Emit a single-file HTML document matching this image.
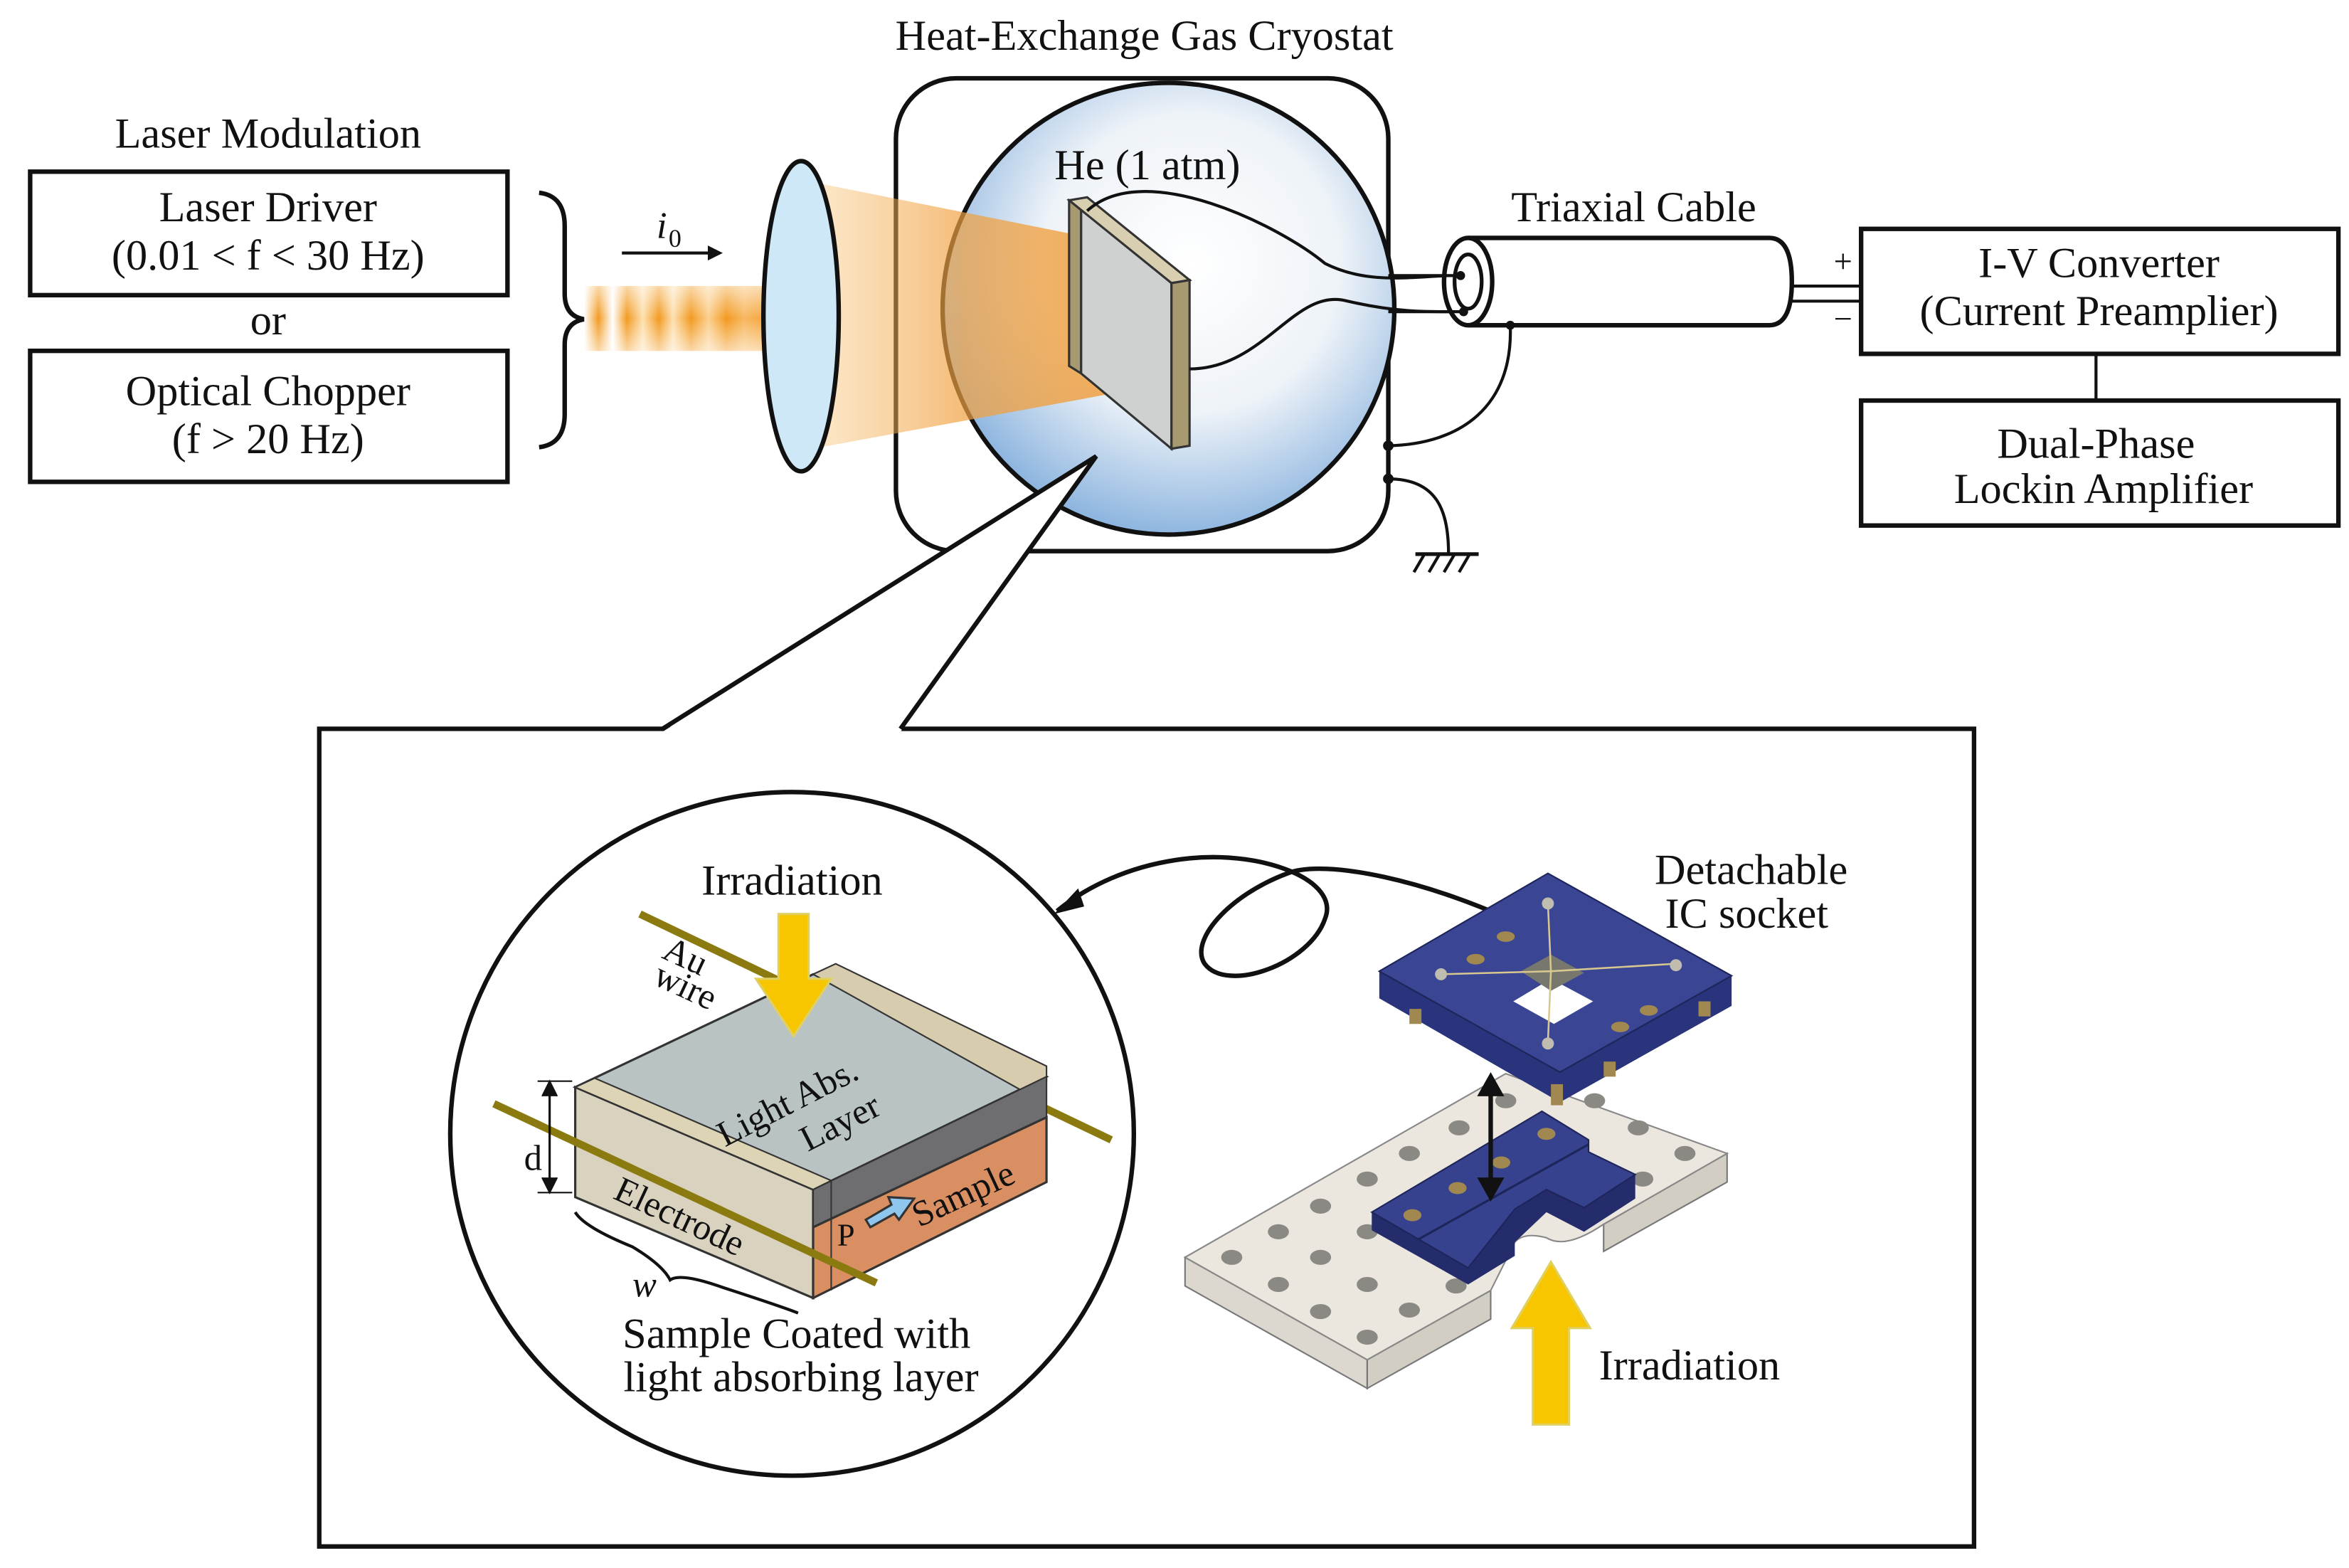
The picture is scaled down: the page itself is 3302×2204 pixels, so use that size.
<!DOCTYPE html>
<html><head><meta charset="utf-8"><style>
html,body{margin:0;padding:0;background:#fff;}
svg{display:block;}
text{font-family:"Liberation Serif",serif;fill:#111;}
</style></head><body>
<svg width="3302" height="2204" viewBox="0 0 1560 1041.3" xmlns="http://www.w3.org/2000/svg">
<defs>
<radialGradient id="he" cx="0.55" cy="0.4" r="0.6">
<stop offset="0" stop-color="#ffffff"/><stop offset="0.55" stop-color="#eef3f8"/><stop offset="1" stop-color="#8fb6e0"/>
</radialGradient>
<linearGradient id="cone" x1="0" x2="1" y1="0" y2="0">
<stop offset="0" stop-color="#f6b860" stop-opacity="0.35"/><stop offset="0.5" stop-color="#f0a040" stop-opacity="0.7"/><stop offset="1" stop-color="#f0a040" stop-opacity="0.85"/>
</linearGradient>
<linearGradient id="beam" x1="0" x2="1">
<stop offset="0" stop-color="#fff"/><stop offset="0.08" stop-color="#f29a20"/><stop offset="0.16" stop-color="#fff"/>
<stop offset="0.24" stop-color="#f29a20"/><stop offset="0.33" stop-color="#fde0b0"/><stop offset="0.42" stop-color="#f29a20"/>
<stop offset="0.5" stop-color="#fde0b0"/><stop offset="0.6" stop-color="#f29a20"/><stop offset="0.7" stop-color="#fbd090"/>
<stop offset="0.8" stop-color="#f29a20"/><stop offset="0.9" stop-color="#f7b860"/><stop offset="1" stop-color="#f5a840"/>
</linearGradient>
<linearGradient id="beamv" x1="0" y1="0" x2="0" y2="1">
<stop offset="0" stop-color="#fff" stop-opacity="0.6"/><stop offset="0.5" stop-color="#fff" stop-opacity="0"/><stop offset="1" stop-color="#fff" stop-opacity="0.6"/>
</linearGradient>
<marker id="ah" markerWidth="10" markerHeight="10" refX="8" refY="5" orient="auto" markerUnits="userSpaceOnUse"><path d="M0,0 L10,5 L0,10 z" fill="#111"/></marker>
</defs>

<text x="760" y="33" font-size="28.5" text-anchor="middle">Heat-Exchange Gas Cryostat</text>
<text x="178" y="98" font-size="28.5" text-anchor="middle">Laser Modulation</text>

<rect x="20" y="114" width="317" height="82" fill="#fff" stroke="#111" stroke-width="3"/>
<text x="178" y="147" font-size="28.5" text-anchor="middle">Laser Driver</text>
<text x="178" y="179" font-size="28.5" text-anchor="middle">(0.01 &lt; f &lt; 30 Hz)</text>
<text x="178" y="222" font-size="28.5" text-anchor="middle">or</text>
<rect x="20" y="233" width="317" height="87" fill="#fff" stroke="#111" stroke-width="3"/>
<text x="178" y="269" font-size="28.5" text-anchor="middle">Optical Chopper</text>
<text x="178" y="301" font-size="28.5" text-anchor="middle">(f &gt; 20 Hz)</text>

<path d="M358,128 Q375,130 375,150 L375,195 Q375,210 388,212 Q375,214 375,229 L375,275 Q375,295 358,297" fill="none" stroke="#111" stroke-width="3"/>

<line x1="413" y1="168" x2="478" y2="168" stroke="#111" stroke-width="2" marker-end="url(#ah)"/>
<text x="436" y="158" font-size="25" font-style="italic">i</text><text x="444" y="164" font-size="17">0</text>

<rect x="388" y="190" width="118" height="43" fill="url(#beam)"/>
<rect x="388" y="190" width="118" height="43" fill="url(#beamv)"/>

<rect x="595" y="52" width="327" height="314" rx="40" fill="#fff" stroke="#111" stroke-width="3"/>
<circle cx="776" cy="205" r="150" fill="url(#he)" stroke="#111" stroke-width="3"/>
<polygon points="545,122 735,160 735,262 545,297" fill="url(#cone)"/>
<ellipse cx="532" cy="210" rx="25" ry="103" fill="#cfe8f8" stroke="#111" stroke-width="3"/>
<text x="762" y="119" font-size="28.5" text-anchor="middle">He (1 atm)</text>
<polygon points="710,133 718,137 718,248 710,243" fill="#a89a70" stroke="#333" stroke-width="1.5"/>
<polygon points="718,137 778,188 778,298 718,248" fill="#cfd0d0" stroke="#333" stroke-width="1.5"/>
<polygon points="710,133 778,188 790,186 722,131" fill="#d8cfb0" stroke="#333" stroke-width="1.5"/>
<polygon points="778,188 790,186 790,296 778,298" fill="#a89a70" stroke="#333" stroke-width="1.5"/>
<path d="M722,140 C760,105 850,150 880,175 C910,190 940,183 968,183" fill="none" stroke="#111" stroke-width="2"/>
<path d="M790,245 C840,245 860,190 895,200 C930,208 950,207 970,207" fill="none" stroke="#111" stroke-width="2"/>

<path d="M975,158 L1175,158 Q1190,158 1190,187 Q1190,216 1175,216 L975,216" fill="#fff" stroke="#111" stroke-width="3"/>
<ellipse cx="975" cy="187" rx="16" ry="29" fill="#fff" stroke="#111" stroke-width="3"/>
<ellipse cx="975" cy="187" rx="9" ry="18" fill="#fff" stroke="#111" stroke-width="2.5"/>
<path d="M922,183 L968,183 M922,207 L972,207" stroke="#111" stroke-width="2"/>
<circle cx="970" cy="183" r="3" fill="#111"/><circle cx="972" cy="207" r="3" fill="#111"/>
<text x="1085" y="147" font-size="28.5" text-anchor="middle">Triaxial Cable</text>
<line x1="1190" y1="190" x2="1236" y2="190" stroke="#111" stroke-width="2"/>
<line x1="1190" y1="200" x2="1236" y2="200" stroke="#111" stroke-width="2"/>
<text x="1224" y="181" font-size="22" text-anchor="middle">+</text>
<text x="1224" y="219" font-size="22" text-anchor="middle">−</text>
<circle cx="1003" cy="216" r="3" fill="#111"/>
<path d="M1003,216 C1005,270 970,295 922,296" fill="none" stroke="#111" stroke-width="2"/>
<circle cx="922" cy="296" r="3.5" fill="#111"/>
<circle cx="922" cy="318" r="3.5" fill="#111"/>
<path d="M922,318 C955,318 962,340 962,368" fill="none" stroke="#111" stroke-width="2"/>
<line x1="940" y1="368" x2="982" y2="368" stroke="#111" stroke-width="2.5"/>
<path d="M946,368 l-7,12 M956,368 l-7,12 M966,368 l-7,12 M976,368 l-7,12" stroke="#111" stroke-width="2"/>

<rect x="1236" y="152" width="317" height="83" fill="#fff" stroke="#111" stroke-width="3"/>
<text x="1394" y="184" font-size="28.5" text-anchor="middle">I-V Converter</text>
<text x="1394" y="216" font-size="28.5" text-anchor="middle">(Current Preamplier)</text>
<line x1="1392" y1="235" x2="1392" y2="266" stroke="#111" stroke-width="2"/>
<rect x="1236" y="266" width="317" height="83" fill="#fff" stroke="#111" stroke-width="3"/>
<text x="1392" y="304" font-size="28.5" text-anchor="middle">Dual-Phase</text>
<text x="1397" y="334" font-size="28.5" text-anchor="middle">Lockin Amplifier</text>

<rect x="212" y="484" width="1099" height="543" fill="#fff" stroke="#111" stroke-width="3"/>
<polygon points="440,486 728,303 598,486" fill="#fff"/>
<polyline points="440,484 728,303 598,484" fill="none" stroke="#111" stroke-width="3"/>

<circle cx="526" cy="753" r="227" fill="#fff" stroke="#111" stroke-width="3"/>
<text x="526" y="594" font-size="28.5" text-anchor="middle">Irradiation</text>
<line x1="425" y1="607" x2="738" y2="757" stroke="#8a7a10" stroke-width="5"/>
<polygon points="382,722 540,647 555,647 695,715 540,790" fill="#b9c3c4" stroke="#333" stroke-width="1.5"/>
<polygon points="540,647 555,640 695,708 695,718 680,725" fill="#d8ccae" stroke="#333" stroke-width="1"/>
<polygon points="382,722 540,790 540,862 382,795" fill="#d8d2be" stroke="#333" stroke-width="1.5"/>
<polygon points="382,722 395,716 552,784 540,790" fill="#ddd4b6" stroke="#333" stroke-width="1"/>
<polygon points="540,790 695,715 695,742 540,815" fill="#6e6e70" stroke="#333" stroke-width="1"/>
<polygon points="540,815 695,742 695,785 540,862" fill="#d98f62" stroke="#333" stroke-width="1.5"/>
<line x1="552" y1="784" x2="552" y2="857" stroke="#333" stroke-width="1"/>
<line x1="328" y1="733" x2="582" y2="852" stroke="#8a7a10" stroke-width="5"/>
<polygon points="517,607 537,607 537,650 552,650 527,688 502,650 517,650" fill="#f7c600" stroke="#e0d060" stroke-width="1.5"/>
<text x="522" y="740" font-size="24" text-anchor="middle" transform="rotate(-27 522 730)">Light Abs.</text>
<text x="550" y="738" font-size="24" text-anchor="middle" transform="rotate(-27 550 730)" dy="17">Layer</text>
<text x="448" y="815" font-size="24" text-anchor="middle" transform="rotate(25 448 815)">Electrode</text>
<text x="556" y="827" font-size="21">P</text>
<polygon points="575,810 592,800 590,795 607,796 597,810 594,806 578,815" fill="#8fc6ee" stroke="#333" stroke-width="1.5"/>
<text x="643" y="800" font-size="24" text-anchor="middle" transform="rotate(-25 643 800)">Sample</text>
<text x="452" y="642" font-size="24" text-anchor="middle" transform="rotate(25 452 642)">Au</text>
<text x="452" y="662" font-size="24" text-anchor="middle" transform="rotate(25 452 662)">wire</text>
<line x1="365" y1="722" x2="365" y2="788" stroke="#111" stroke-width="1.5"/>
<path d="M360,728 L365,718 L370,728 M360,782 L365,792 L370,782" fill="#111" stroke="#111"/>
<line x1="357" y1="718" x2="380" y2="718" stroke="#111" stroke-width="1"/>
<line x1="357" y1="792" x2="380" y2="792" stroke="#111" stroke-width="1"/>
<text x="354" y="777" font-size="24" text-anchor="middle">d</text>
<path d="M382,805 Q388,815 420,828 Q440,840 445,850 Q452,845 480,855 Q520,868 530,872" fill="none" stroke="#111" stroke-width="2"/>
<text x="428" y="861" font-size="24" font-style="italic" text-anchor="middle">w</text>
<text x="529" y="895" font-size="28.5" text-anchor="middle">Sample Coated with</text>
<text x="532" y="924" font-size="28.5" text-anchor="middle">light absorbing layer</text>

<path d="M1012,615 C950,585 880,570 855,580 C815,595 790,625 800,640 C815,660 870,640 880,610 C890,585 840,565 790,570 C750,574 720,590 702,605" fill="none" stroke="#111" stroke-width="3"/>
<polygon points="700,607 716,590 720,602" fill="#111"/>

<!-- white plate -->
<polygon points="787,835 908,903 908,922 787,854" fill="#dcd8cf" stroke="#777" stroke-width="1"/>
<polygon points="908,903 990,857 990,876 908,922" fill="#d2cec4" stroke="#777" stroke-width="1"/>
<polygon points="1065,813 1147,766 1147,785 1065,831" fill="#d2cec4" stroke="#777" stroke-width="1"/>
<path d="M787,835 L1000,713 L1147,766 L1065,813 Q1040,830 1027,822 Q1012,818 1006,825 L990,857 L908,903 Z" fill="#ebe7df" stroke="#888" stroke-width="1"/>
<g fill="#8a8984">
<ellipse cx="818" cy="835" rx="7" ry="5"/><ellipse cx="849" cy="818" rx="7" ry="5"/><ellipse cx="877" cy="801" rx="7" ry="5"/>
<ellipse cx="908" cy="783" rx="7" ry="5"/><ellipse cx="936" cy="766" rx="7" ry="5"/><ellipse cx="969" cy="749" rx="7" ry="5"/>
<ellipse cx="1000" cy="731" rx="7" ry="5"/><ellipse cx="849" cy="853" rx="7" ry="5"/><ellipse cx="877" cy="835" rx="7" ry="5"/>
<ellipse cx="908" cy="818" rx="7" ry="5"/><ellipse cx="877" cy="871" rx="7" ry="5"/><ellipse cx="908" cy="853" rx="7" ry="5"/>
<ellipse cx="936" cy="870" rx="7" ry="5"/><ellipse cx="908" cy="888" rx="7" ry="5"/><ellipse cx="967" cy="854" rx="7" ry="5"/>
<ellipse cx="1059" cy="731" rx="7" ry="5"/><ellipse cx="1088" cy="749" rx="7" ry="5"/><ellipse cx="1119" cy="766" rx="7" ry="5"/>
<ellipse cx="1091" cy="783" rx="7" ry="5"/>
</g>
<!-- lower blue -->
<polygon points="911,805 911,817 975,853 1006,834 1006,825 1027,805 1052,818 1086,796 1086,780" fill="#242c6c"/>
<polygon points="911,805 1024,738 1055,757 1055,765 1086,780 1052,802 1027,790 1006,803 975,842" fill="#37428f" stroke="#1e255a" stroke-width="1"/>
<line x1="942" y1="823" x2="1055" y2="760" stroke="#1e255a" stroke-width="1.5"/>
<g fill="#a08850"><ellipse cx="938" cy="807" rx="6" ry="4"/><ellipse cx="968" cy="789" rx="6" ry="4"/><ellipse cx="997" cy="772" rx="6" ry="4"/><ellipse cx="1027" cy="753" rx="6" ry="4"/></g>
<!-- upper socket -->
<polygon points="916,645 916,663 1036,732 1150,668 1150,648 1036,712" fill="#2a347c"/>
<polygon points="916,645 1028,580 1150,648 1036,712" fill="#3a4594" stroke="#1e255a" stroke-width="1"/>
<polygon points="1005,665 1030,650 1058,665 1032,680" fill="#fff"/>
<polygon points="1010,645 1030,634 1052,646 1030,658" fill="#77776e"/>
<g stroke="#d8c890" stroke-width="1.2"><line x1="1030" y1="645" x2="1028" y2="600"/><line x1="1030" y1="645" x2="957" y2="647"/><line x1="1030" y1="645" x2="1113" y2="640"/><line x1="1030" y1="645" x2="1028" y2="692"/></g>
<g fill="#c0bcb0"><circle cx="1028" cy="600" r="4"/><circle cx="957" cy="647" r="4"/><circle cx="1113" cy="641" r="4"/><circle cx="1028" cy="693" r="4"/></g>
<g fill="#a08850"><ellipse cx="1000" cy="622" rx="6" ry="3.5"/><ellipse cx="980" cy="637" rx="6" ry="3.5"/><ellipse cx="1095" cy="671" rx="6" ry="3.5"/><ellipse cx="1076" cy="682" rx="6" ry="3.5"/>
<rect x="936" y="670" width="8" height="10"/><rect x="1030" y="720" width="8" height="14"/><rect x="1065" y="705" width="8" height="10"/><rect x="1128" y="665" width="8" height="10"/></g>
<text x="1163" y="587" font-size="28.5" text-anchor="middle">Detachable</text>
<text x="1160" y="616" font-size="28.5" text-anchor="middle">IC socket</text>
<line x1="990" y1="722" x2="990" y2="788" stroke="#111" stroke-width="3"/>
<polygon points="981,728 990,712 999,728" fill="#111"/><polygon points="981,782 990,798 999,782" fill="#111"/>
<polygon points="1018,946 1042,946 1042,882 1056,882 1030,838 1004,882 1018,882" fill="#f7c600" stroke="#e0d060" stroke-width="1.5"/>
<text x="1122" y="916" font-size="28.5" text-anchor="middle">Irradiation</text>
</svg>
</body></html>
